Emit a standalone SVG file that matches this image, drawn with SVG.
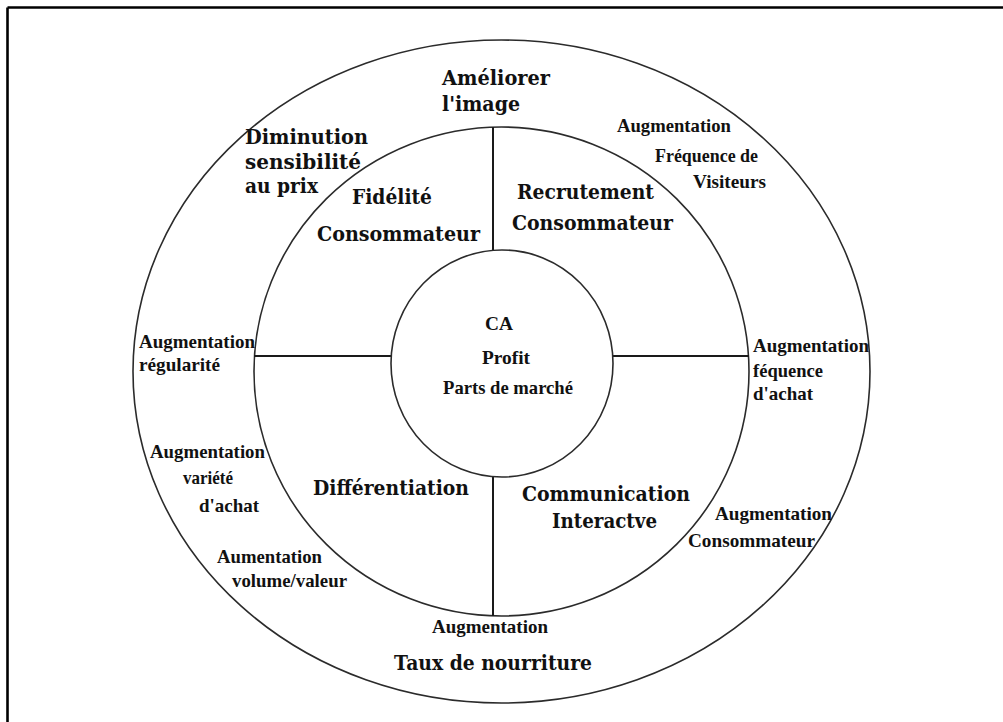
<svg xmlns="http://www.w3.org/2000/svg" width="1003" height="722" viewBox="0 0 1003 722">
  <style>
    .ring { fill: none; stroke: #2b2b2b; stroke-width: 1.6; }
    .divider { stroke: #1a1a1a; stroke-width: 2; fill: none; }
    .frame { stroke: #000; stroke-width: 2.6; fill: none; }
    .big { font-family: "DejaVu Serif", "Liberation Serif", serif; font-weight: bold; font-size: 20px; fill: #111; }
    .small { font-family: "Liberation Serif", "DejaVu Serif", serif; font-weight: bold; font-size: 19px; fill: #111; }
  </style>
  <rect width="1003" height="722" fill="#fff"/>

  <!-- page frame: only top and left edges are in view -->
  <g id="frame">
    <line class="frame" x1="7.5" y1="7.5" x2="1003" y2="7.5"/>
    <line class="frame" x1="7.5" y1="7.5" x2="7.5" y2="722"/>
  </g>

  <!-- concentric rings -->
  <g id="outer-ring">
    <ellipse class="ring" cx="501.5" cy="371.5" rx="368.5" ry="331.5"/>
  </g>
  <g id="middle-ring">
    <ellipse class="ring" cx="501.5" cy="371.5" rx="247.5" ry="244.5"/>
  </g>

  <!-- dividers splitting the middle ring into four quadrants -->
  <g id="connectors">
    <line class="divider" x1="493" y1="127" x2="493" y2="250.5"/>
    <line class="divider" x1="493" y1="476.5" x2="493" y2="616"/>
    <line class="divider" x1="254" y1="356" x2="391" y2="356"/>
    <line class="divider" x1="613" y1="356" x2="749" y2="356"/>
  </g>

  <!-- core -->
  <g id="core">
    <ellipse class="ring" cx="502" cy="363.5" rx="111" ry="113.5" fill="#fff"/>
    <text class="small" x="485" y="330" textLength="28" lengthAdjust="spacingAndGlyphs">CA</text>
    <text class="small" x="482" y="364" textLength="48" lengthAdjust="spacingAndGlyphs">Profit</text>
    <text class="small" x="443" y="394" textLength="130" lengthAdjust="spacingAndGlyphs">Parts de marché</text>
  </g>

  <!-- inner quadrants -->
  <g id="fidelite">
    <text class="big" x="352" y="204" textLength="80" lengthAdjust="spacingAndGlyphs">Fidélité</text>
    <text class="big" x="317" y="241" textLength="163" lengthAdjust="spacingAndGlyphs">Consommateur</text>
  </g>
  <g id="recrutement">
    <text class="big" x="517" y="199" textLength="137" lengthAdjust="spacingAndGlyphs">Recrutement</text>
    <text class="big" x="512" y="230" textLength="161" lengthAdjust="spacingAndGlyphs">Consommateur</text>
  </g>
  <g id="differentiation">
    <text class="big" x="313" y="495" textLength="156" lengthAdjust="spacingAndGlyphs">Différentiation</text>
  </g>
  <g id="communication">
    <text class="big" x="522" y="501" textLength="168" lengthAdjust="spacingAndGlyphs">Communication</text>
    <text class="big" x="552" y="528" textLength="105" lengthAdjust="spacingAndGlyphs">Interactve</text>
  </g>

  <!-- outer ring effects -->
  <g id="image">
    <text class="big" x="442" y="85" textLength="108" lengthAdjust="spacingAndGlyphs">Améliorer</text>
    <text class="big" x="442" y="111" textLength="78" lengthAdjust="spacingAndGlyphs">l'image</text>
  </g>
  <g id="sensibilite">
    <text class="big" x="245" y="144" textLength="123" lengthAdjust="spacingAndGlyphs">Diminution</text>
    <text class="big" x="245" y="169" textLength="116" lengthAdjust="spacingAndGlyphs">sensibilité</text>
    <text class="big" x="245" y="193" textLength="73" lengthAdjust="spacingAndGlyphs">au prix</text>
  </g>
  <g id="frequence-visiteurs">
    <text class="small" x="617" y="132" textLength="114" lengthAdjust="spacingAndGlyphs">Augmentation</text>
    <text class="small" x="655" y="162" textLength="103" lengthAdjust="spacingAndGlyphs">Fréquence de</text>
    <text class="small" x="693" y="188" textLength="73" lengthAdjust="spacingAndGlyphs">Visiteurs</text>
  </g>
  <g id="regularite">
    <text class="small" x="139" y="348" textLength="116" lengthAdjust="spacingAndGlyphs">Augmentation</text>
    <text class="small" x="139" y="371" textLength="81" lengthAdjust="spacingAndGlyphs">régularité</text>
  </g>
  <g id="frequence-achat">
    <text class="small" x="753" y="352" textLength="116" lengthAdjust="spacingAndGlyphs">Augmentation</text>
    <text class="small" x="753" y="377" textLength="70" lengthAdjust="spacingAndGlyphs">féquence</text>
    <text class="small" x="753" y="400" textLength="60" lengthAdjust="spacingAndGlyphs">d'achat</text>
  </g>
  <g id="variete">
    <text class="small" x="150" y="458" textLength="115" lengthAdjust="spacingAndGlyphs">Augmentation</text>
    <text class="small" x="183" y="484" textLength="50" lengthAdjust="spacingAndGlyphs">variété</text>
    <text class="small" x="199" y="512" textLength="60" lengthAdjust="spacingAndGlyphs">d'achat</text>
  </g>
  <g id="volume">
    <text class="small" x="217" y="563" textLength="105" lengthAdjust="spacingAndGlyphs">Aumentation</text>
    <text class="small" x="232" y="587" textLength="115" lengthAdjust="spacingAndGlyphs">volume/valeur</text>
  </g>
  <g id="consommateurs">
    <text class="small" x="715" y="520" textLength="117" lengthAdjust="spacingAndGlyphs">Augmentation</text>
    <text class="small" x="688" y="547" textLength="127" lengthAdjust="spacingAndGlyphs">Consommateur</text>
  </g>
  <g id="nourriture">
    <text class="small" x="432" y="633" textLength="116" lengthAdjust="spacingAndGlyphs">Augmentation</text>
    <text class="big" x="394" y="670" textLength="198" lengthAdjust="spacingAndGlyphs">Taux de nourriture</text>
  </g>
</svg>
